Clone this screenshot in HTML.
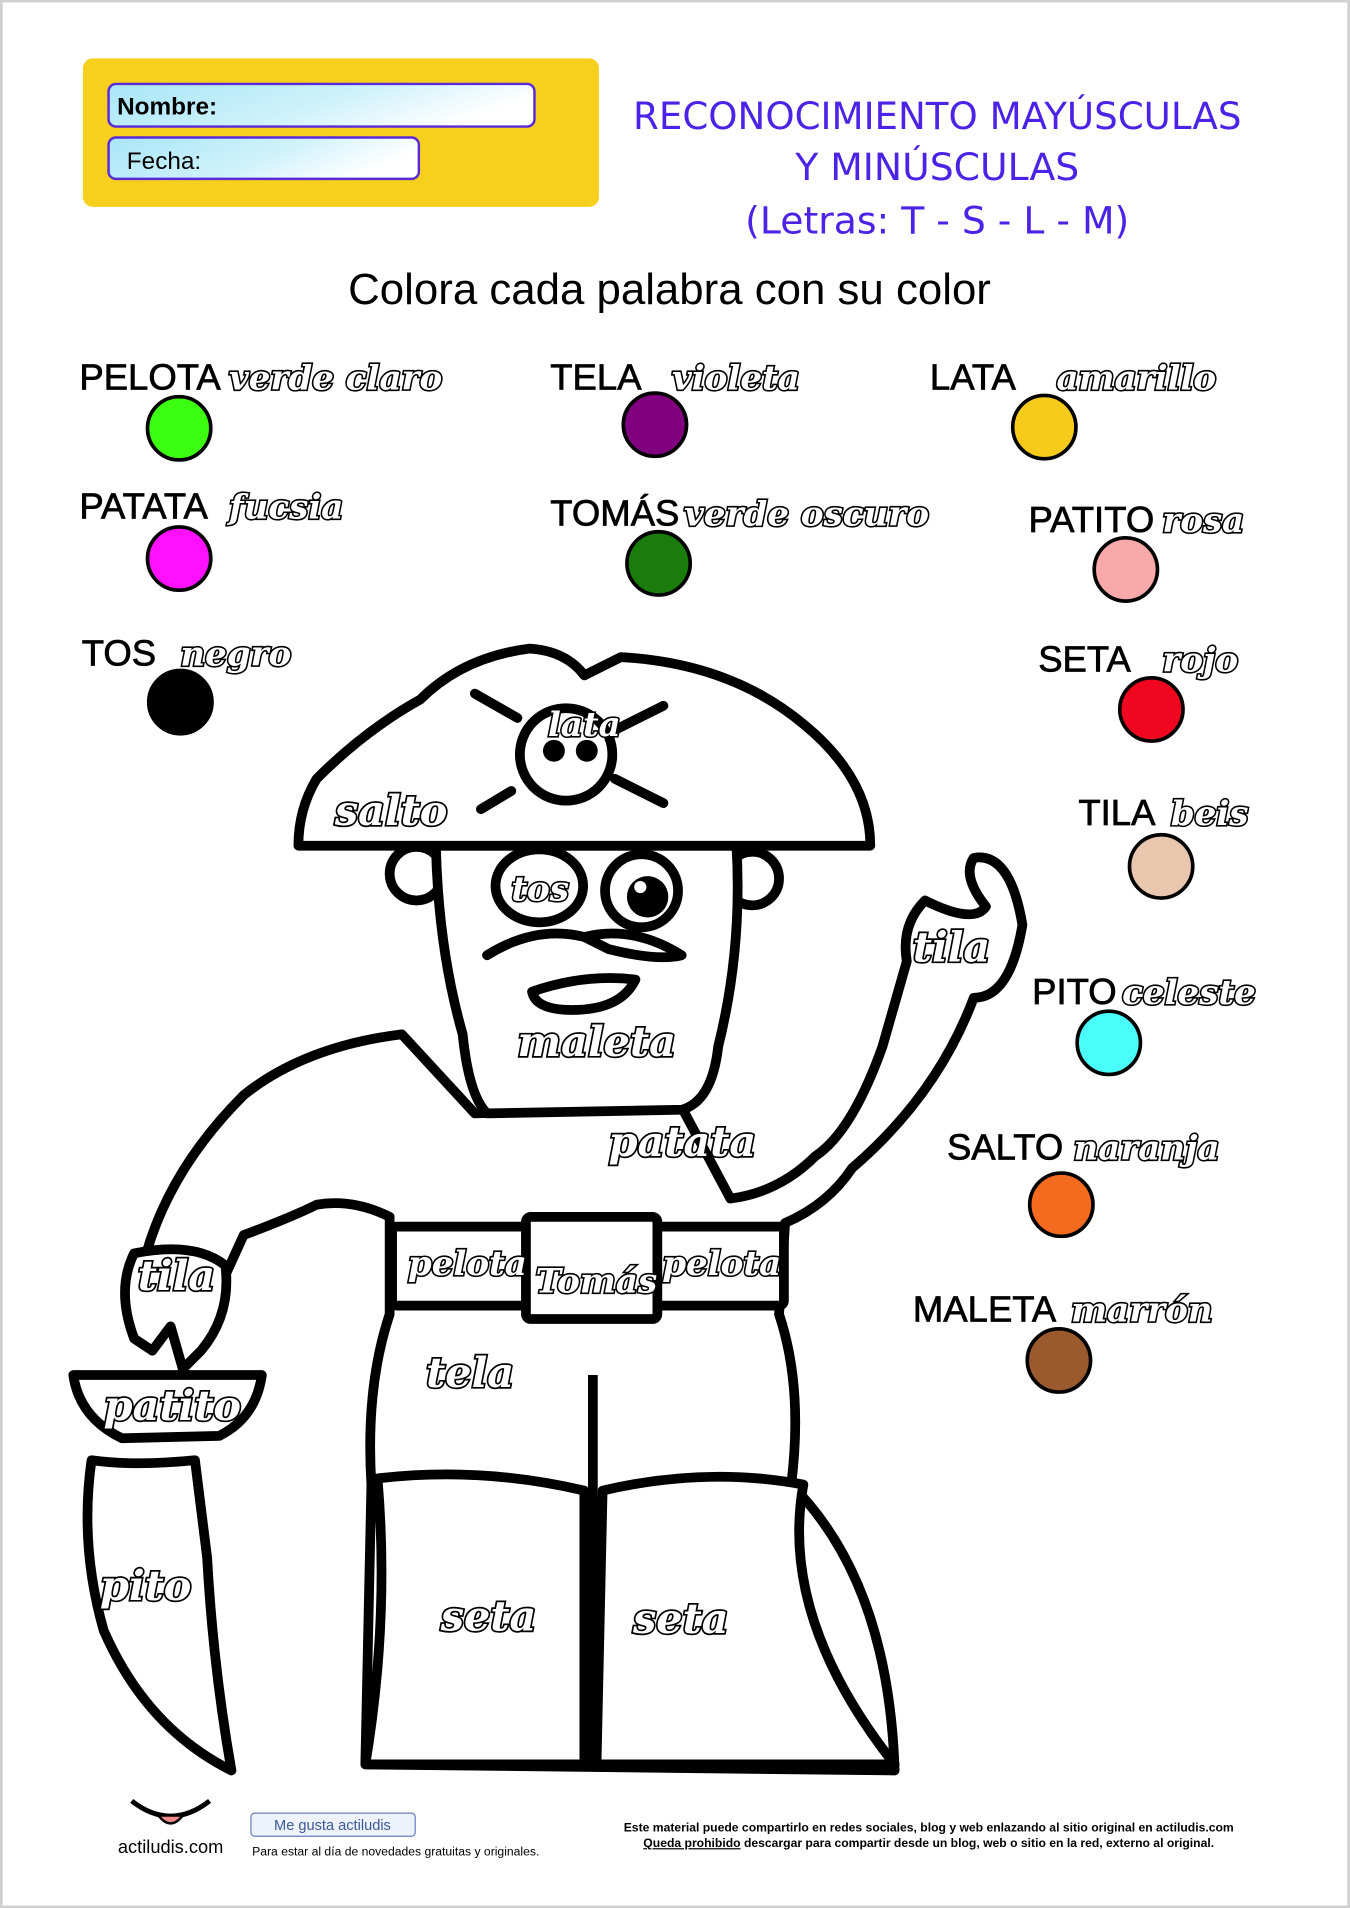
<!DOCTYPE html>
<html><head><meta charset="utf-8"><style>
html,body{margin:0;padding:0;background:#fff}
svg{display:block}
.l{font-family:"Liberation Sans",sans-serif;font-size:30px;fill:#000;stroke:#000;stroke-width:0.6}
.c{font-family:"DejaVu Serif",serif;font-style:italic;font-weight:bold;font-size:28px;fill:#fff;stroke:#000;stroke-width:2.6;paint-order:stroke}
.w{font-family:"DejaVu Serif",serif;font-style:italic;font-weight:bold;font-size:34px;fill:#fff;stroke:#000;stroke-width:2.8;paint-order:stroke}
.p{fill:#fff;stroke:#000;stroke-width:8;stroke-linejoin:round;stroke-linecap:round}
.t{font-family:"DejaVu Sans",sans-serif;font-size:31px;fill:#4b22e6;text-anchor:middle}
</style></head><body>
<svg width="1350" height="1908" viewBox="0 0 1109 1568" xmlns="http://www.w3.org/2000/svg">
<rect x="0" y="0" width="1109" height="1568" fill="#fff" stroke="#d0d0d0" stroke-width="4"/>
<defs><linearGradient id="g" x1="0" y1="0" x2="1" y2="0.3"><stop offset="0" stop-color="#a8e6f8"/><stop offset="0.6" stop-color="#d0f2fb"/><stop offset="1" stop-color="#fff"/></linearGradient></defs>
<rect x="68" y="48" width="424" height="122" rx="8" fill="#f7cf1d"/>
<rect x="89" y="69" width="350" height="35" rx="6" fill="url(#g)" stroke="#5a2ad8" stroke-width="2"/>
<text x="96" y="94" font-family="Liberation Sans,sans-serif" font-weight="bold" font-size="20">Nombre:</text>
<rect x="89" y="113" width="255" height="34" rx="6" fill="url(#g)" stroke="#5a2ad8" stroke-width="2"/>
<text x="104" y="139" font-family="Liberation Sans,sans-serif" font-size="20">Fecha:</text>
<text class="t" x="770" y="106" textLength="500" lengthAdjust="spacingAndGlyphs">RECONOCIMIENTO MAYÚSCULAS</text>
<text class="t" x="770" y="148">Y MINÚSCULAS</text>
<text class="t" x="770" y="192">(Letras: T - S - L - M)</text>
<text x="550" y="250" text-anchor="middle" font-family="Liberation Sans,sans-serif" font-size="36">Colora cada palabra con su color</text>

<g>
<text class="l" x="65" y="320">PELOTA</text><text class="c" x="188" y="320">verde claro</text><circle cx="147" cy="352" r="26" fill="#3dff10" stroke="#000" stroke-width="3"/>
<text class="l" x="452" y="320">TELA</text><text class="c" x="552" y="320">violeta</text><circle cx="538" cy="349" r="26" fill="#800080" stroke="#000" stroke-width="3"/>
<text class="l" x="764" y="320">LATA</text><text class="c" x="868" y="320">amarillo</text><circle cx="858" cy="351" r="26" fill="#f6cb1c" stroke="#000" stroke-width="3"/>
<text class="l" x="65" y="426">PATATA</text><text class="c" x="188" y="426">fucsia</text><circle cx="147" cy="459" r="26" fill="#ff10ff" stroke="#000" stroke-width="3"/>
<text class="l" x="452" y="432">TOMÁS</text><text class="c" x="562" y="432">verde oscuro</text><circle cx="541" cy="463" r="26" fill="#1a7c0a" stroke="#000" stroke-width="3"/>
<text class="l" x="845" y="437">PATITO</text><text class="c" x="955" y="437">rosa</text><circle cx="925" cy="468" r="26" fill="#f9a9a9" stroke="#000" stroke-width="3"/>
<text class="l" x="67" y="547">TOS</text><text class="c" x="148" y="547">negro</text><circle cx="148" cy="577" r="26" fill="#000" stroke="#000" stroke-width="3"/>
<text class="l" x="853" y="552">SETA</text><text class="c" x="955" y="552">rojo</text><circle cx="946" cy="583" r="26" fill="#f0061e" stroke="#000" stroke-width="3"/>
<text class="l" x="886" y="678">TILA</text><text class="c" x="962" y="678">beis</text><circle cx="954" cy="712" r="26" fill="#e8c7ae" stroke="#000" stroke-width="3"/>
<text class="l" x="848" y="825">PITO</text><text class="c" x="922" y="825">celeste</text><circle cx="911" cy="857" r="26" fill="#49fdfb" stroke="#000" stroke-width="3"/>
<text class="l" x="778" y="953">SALTO</text><text class="c" x="882" y="953">naranja</text><circle cx="872" cy="990" r="26" fill="#f46a1e" stroke="#000" stroke-width="3"/>
<text class="l" x="750" y="1086">MALETA</text><text class="c" x="880" y="1086">marrón</text><circle cx="870" cy="1118" r="26" fill="#9b5a2e" stroke="#000" stroke-width="3"/>
</g>

<g>
<path class="p" d="M75,1200 Q110,1205 160,1200 L170,1280 Q175,1370 190,1455 Q120,1420 85,1340 Q65,1270 75,1200Z"/>
<path class="p" d="M330,850 Q250,860 200,900 Q140,960 120,1030 L110,1060 Q130,1110 175,1070 L200,1015 Q240,1000 260,990 Q290,985 320,1000 L320,1080 Q300,1140 305,1220 L300,1450 L735,1455 Q730,1300 650,1220 Q660,1140 640,1080 L645,1005 Q680,990 700,960 Q770,900 800,820 Q830,820 840,760 Q830,700 800,705 Q790,720 810,745 Q800,760 760,740 Q740,760 745,790 L725,860 Q700,930 670,950 Q640,980 600,985 L560,910 L390,915 Z"/>
<path class="p" d="M110,1030 Q95,1060 110,1100 L125,1110 L140,1090 L150,1125 L165,1110 Q190,1080 185,1040 Q160,1020 110,1030Z"/>
<path class="p" d="M60,1130 L215,1130 Q210,1165 180,1180 L100,1182 Q65,1165 60,1130Z"/>
<rect class="p" x="322" y="1008" width="322" height="65" rx="4"/>
<rect class="p" x="432" y="1000" width="108" height="84" rx="4"/>
<path class="p" d="M310,1215 Q395,1205 480,1225 L480,1450 L300,1450 Q320,1330 310,1215Z"/>
<path class="p" d="M495,1225 Q580,1205 660,1220 Q640,1330 735,1450 L490,1450Z"/>
<line x1="487" y1="1130" x2="487" y2="1455" stroke="#000" stroke-width="8"/>
<circle class="p" cx="342" cy="718" r="22"/>
<circle class="p" cx="618" cy="722" r="22"/>
<path class="p" d="M358,695 L605,695 Q610,780 590,860 Q585,905 560,912 L400,915 Q385,900 380,850 Q360,780 358,695Z"/>
<ellipse class="p" cx="443" cy="728" rx="36" ry="30"/>
<circle class="p" cx="527" cy="732" r="30"/>
<circle cx="532" cy="737" r="17" fill="#000"/>
<circle cx="526" cy="729" r="5" fill="#fff"/>
<path class="p" d="M400,785 Q440,760 480,770 Q520,760 560,785 Q540,790 500,780 L480,770"/>
<path class="p" d="M437,815 Q480,800 522,805 Q510,830 470,830 Q440,830 437,815Z"/>
<path class="p" d="M245,695 L715,695 Q715,640 660,595 Q600,545 510,540 L480,555 Q465,535 435,533 Q380,540 345,575 Q300,600 260,640 Q245,665 245,695Z"/>
<circle class="p" cx="465" cy="620" r="38" stroke-width="6"/>
<circle cx="455" cy="617" r="9" fill="#000"/><circle cx="482" cy="617" r="9" fill="#000"/>
<path class="p" d="M390,570 L425,590 M505,640 L545,660 M545,580 L505,600 M420,650 L395,665" stroke-width="10"/>
</g>
<text class="c" x="450" y="605" font-size="18">lata</text>
<text class="w" x="275" y="678">salto</text>
<text class="c" x="420" y="740" font-size="22">tos</text>
<text class="w" x="750" y="790">tila</text>
<text class="w" x="425" y="868" font-size="28">maleta</text>
<text class="w" x="500" y="950" font-size="40">patata</text>
<text class="c" x="335" y="1048" font-size="26">pelota</text>
<text class="c" x="440" y="1062" font-size="24">Tomás</text>
<text class="c" x="544" y="1048" font-size="26">pelota</text>
<text class="w" x="113" y="1060">tila</text>
<text class="w" x="85" y="1167">patito</text>
<text class="w" x="350" y="1140">tela</text>
<text class="w" x="82" y="1315" font-size="36">pito</text>
<text class="w" x="362" y="1340">seta</text>
<text class="w" x="520" y="1342">seta</text>

<path d="M108,1480 Q140,1505 172,1480" fill="none" stroke="#000" stroke-width="4"/>
<path d="M130,1492 Q140,1505 150,1492Z" fill="#f28a8a" stroke="#000" stroke-width="2"/>
<text x="140" y="1523" text-anchor="middle" font-family="Liberation Sans,sans-serif" font-size="15">actiludis.com</text>
<rect x="206" y="1490" width="135" height="19" rx="3" fill="#eef2fa" stroke="#6b7fc0"/>
<text x="225" y="1504" font-family="Liberation Sans,sans-serif" font-size="12" fill="#3b5998">Me gusta  actiludis</text>
<text x="207" y="1525" font-family="Liberation Sans,sans-serif" font-size="10">Para estar al día de novedades gratuitas y originales.</text>
<text x="763" y="1505" text-anchor="middle" font-family="Liberation Sans,sans-serif" font-size="10" font-weight="bold">Este material puede compartirlo en redes sociales, blog y web enlazando al sitio original en actiludis.com</text>
<text x="763" y="1518" text-anchor="middle" font-family="Liberation Sans,sans-serif" font-size="10" font-weight="bold"><tspan text-decoration="underline">Queda prohibido</tspan> descargar para compartir desde un blog, web o sitio en la red, externo al original.</text>
</svg>
</body></html>
